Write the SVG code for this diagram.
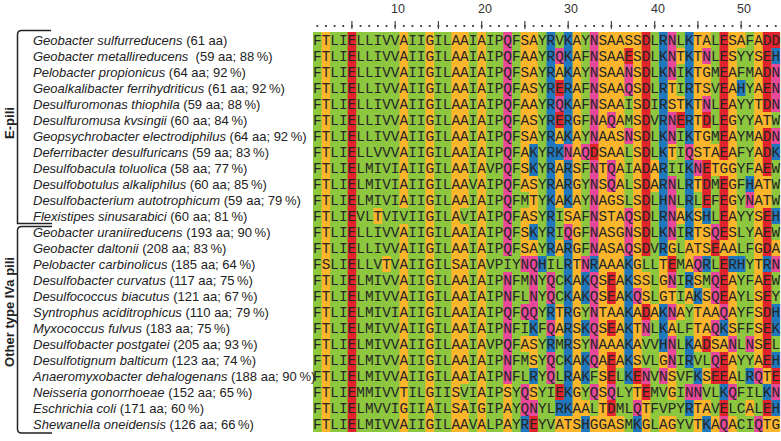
<svg xmlns="http://www.w3.org/2000/svg" width="781" height="441" viewBox="0 0 781 441">
<style>
.g{fill:#8dc63f}.o{fill:#fbb62c}.m{fill:#e8489a}.b{fill:#1f78bd}.r{fill:#e3232b}
.seq{font-family:"Liberation Mono","DejaVu Sans Mono",monospace;font-size:14.4px;fill:#262626}
.lab{font-family:"Liberation Sans",Arial,sans-serif;font-size:13px;fill:#222}
.it{font-style:italic}
.grp{font-family:"Liberation Sans",Arial,sans-serif;font-size:13px;font-weight:bold;fill:#222}
.num{font-family:"Liberation Sans",Arial,sans-serif;font-size:12.5px;fill:#333;text-anchor:middle}
.br{fill:none;stroke:#222;stroke-width:1.5}
</style>
<rect width="781" height="441" fill="#fff"/>
<g id="ruler">
<text class="num" x="398" y="12.5">10</text>
<text class="num" x="485" y="12.5">20</text>
<text class="num" x="571" y="12.5">30</text>
<text class="num" x="658" y="12.5">40</text>
<text class="num" x="744" y="12.5">50</text>
<line x1="316.4" y1="26" x2="781" y2="26" stroke="#444" stroke-width="1.8" stroke-dasharray="1.8 6.85"/>
<path d="M351.9 21v8M395.2 21v8M438.4 21v8M481.7 21v8M524.9 21v8M568.2 21v8M611.4 21v8M654.7 21v8M697.9 21v8M741.2 21v8" stroke="#444" stroke-width="1.2"/>
</g>
<g id="alignment-colours" transform="translate(313,32) scale(8.65,16)">
<rect class="g" x="0" y="0" width="54" height="25"/>
<path class="o" d="M1 0h1v25h-1zM7 11h1v1h-1zM8 14h1v1h-1zM10 0h1v11h-1zM10 12h1v13h-1zM13 0h1v25h-1zM16 0h1v25h-1zM17 0h1v11h-1zM17 12h1v10h-1zM17 23h1v2h-1zM19 0h1v25h-1zM22 22h1v3h-1zM24 0h1v10h-1zM24 11h1v3h-1zM24 19h1v1h-1zM25 0h1v7h-1zM25 9h1v3h-1zM25 13h1v1h-1zM25 19h1v2h-1zM25 22h1v1h-1zM28 2h1v1h-1zM28 6h1v1h-1zM28 8h1v3h-1zM28 13h1v1h-1zM28 17h1v2h-1zM28 24h1v1h-1zM29 11h1v1h-1zM29 24h1v1h-1zM30 0h1v25h-1zM31 23h1v1h-1zM32 24h1v1h-1zM33 0h1v25h-1zM34 0h1v5h-1zM34 6h1v2h-1zM34 10h1v5h-1zM34 17h1v1h-1zM34 19h1v1h-1zM34 24h1v1h-1zM35 0h1v21h-1zM35 24h1v1h-1zM36 0h1v1h-1zM37 0h1v16h-1zM37 17h1v4h-1zM37 22h1v1h-1zM38 15h1v2h-1zM38 23h1v2h-1zM39 8h1v2h-1zM39 17h1v1h-1zM40 14h1v3h-1zM40 20h1v1h-1zM40 24h1v1h-1zM41 3h1v2h-1zM41 7h1v1h-1zM41 13h1v1h-1zM41 16h1v1h-1zM41 18h1v1h-1zM41 21h1v2h-1zM41 24h1v1h-1zM42 1h1v1h-1zM42 4h1v1h-1zM42 11h1v1h-1zM42 17h1v1h-1zM43 13h1v2h-1zM43 16h1v1h-1zM44 0h1v8h-1zM44 9h1v1h-1zM44 11h1v3h-1zM44 15h1v1h-1zM44 17h1v3h-1zM44 23h1v2h-1zM45 0h1v1h-1zM45 2h1v2h-1zM45 6h1v2h-1zM45 12h1v2h-1zM45 16h1v3h-1zM45 21h1v1h-1zM45 23h1v1h-1zM46 7h1v2h-1zM46 17h1v1h-1zM46 19h1v1h-1zM46 24h1v1h-1zM47 8h1v1h-1zM47 13h1v1h-1zM47 19h1v1h-1zM48 0h1v14h-1zM48 15h1v4h-1zM48 20h1v2h-1zM48 24h1v1h-1zM49 0h1v1h-1zM50 23h1v1h-1zM51 0h1v21h-1zM52 5h1v1h-1zM52 9h1v2h-1zM52 21h1v1h-1zM52 24h1v1h-1zM53 13h1v1h-1zM53 24h1v1h-1z"/>
<path class="b" d="M27 0h1v14h-1zM27 17h1v1h-1zM27 19h1v1h-1zM29 0h1v7h-1zM29 8h1v3h-1zM29 13h1v11h-1zM40 0h1v14h-1zM40 17h1v3h-1zM43 0h1v7h-1zM43 8h1v5h-1zM43 15h1v1h-1zM43 19h1v2h-1zM43 23h1v1h-1zM36 14h1v8h-1zM31 15h1v2h-1zM31 18h1v1h-1zM31 20h1v2h-1zM53 1h1v1h-1zM53 7h1v1h-1zM53 11h1v1h-1zM53 17h1v2h-1zM53 20h1v1h-1zM53 23h1v1h-1zM25 7h1v2h-1zM25 12h1v1h-1zM25 18h1v1h-1zM25 21h1v1h-1zM49 3h1v1h-1zM28 7h1v1h-1zM50 9h1v1h-1zM45 11h1v1h-1zM26 14h1v1h-1zM32 14h1v1h-1zM45 14h1v1h-1zM48 14h2v1h-2zM52 14h1v1h-1zM44 16h1v1h-1zM47 18h1v1h-1zM44 21h1v1h-1zM50 21h1v1h-1zM47 22h1v1h-1zM52 22h1v1h-1zM28 23h1v1h-1zM24 24h1v1h-1zM31 24h1v1h-1zM37 24h1v1h-1zM45 24h1v1h-1z"/>
<path class="r" d="M4 0h1v25h-1zM38 0h1v14h-1zM38 17h1v1h-1zM38 22h1v1h-1zM47 0h1v8h-1zM47 9h1v4h-1zM47 14h1v3h-1zM47 20h1v2h-1zM47 23h1v1h-1zM52 0h1v5h-1zM52 6h1v3h-1zM52 11h1v3h-1zM52 15h1v6h-1zM52 23h1v1h-1zM34 15h1v2h-1zM34 18h1v1h-1zM34 20h1v2h-1zM34 23h1v1h-1zM45 5h1v1h-1zM45 8h1v3h-1zM45 19h1v1h-1zM28 3h1v1h-1zM28 5h1v1h-1zM28 22h1v1h-1zM53 0h1v1h-1zM36 1h1v1h-1zM42 5h1v1h-1zM32 7h1v1h-1zM46 13h1v1h-1zM41 14h1v1h-1zM37 21h1v1h-1zM46 21h1v1h-1zM53 21h1v1h-1zM25 24h1v1h-1z"/>
<path class="m" d="M22 0h1v14h-1zM22 15h1v7h-1zM32 0h1v7h-1zM32 8h1v6h-1zM32 15h1v6h-1zM32 22h1v1h-1zM41 0h1v3h-1zM41 5h1v2h-1zM41 9h1v4h-1zM41 15h1v1h-1zM41 17h1v1h-1zM41 19h1v2h-1zM36 2h1v2h-1zM36 6h1v1h-1zM36 11h1v3h-1zM53 2h1v3h-1zM53 6h1v1h-1zM53 14h1v1h-1zM53 22h1v1h-1zM46 12h1v1h-1zM46 15h1v2h-1zM46 18h1v1h-1zM46 20h1v1h-1zM27 15h1v2h-1zM27 18h1v1h-1zM27 20h1v2h-1zM34 5h1v1h-1zM34 8h1v2h-1zM34 22h1v1h-1zM28 1h1v1h-1zM28 4h1v1h-1zM45 1h1v1h-1zM45 4h1v1h-1zM24 14h1v1h-1zM24 17h1v1h-1zM24 22h1v2h-1zM25 14h1v4h-1zM25 23h1v1h-1zM29 7h1v1h-1zM29 12h1v1h-1zM31 7h1v1h-1zM31 14h1v1h-1zM43 7h1v1h-1zM43 22h1v1h-1zM44 8h1v1h-1zM44 14h1v1h-1zM44 22h1v1h-1zM50 10h1v1h-1zM50 19h1v1h-1zM37 16h1v1h-1zM37 23h1v1h-1zM38 18h1v1h-1zM38 21h1v1h-1zM47 17h1v1h-1zM47 24h1v1h-1zM48 19h1v1h-1zM48 22h1v1h-1zM51 21h1v1h-1zM51 24h1v1h-1zM40 21h1v1h-1z"/>
</g>
<g id="brackets">
<path class="br" d="M51 30.5H21.5Q17.5 30.5 17.5 34.5V223.5H52"/>
<path class="br" d="M52 226.5H21.5Q17.5 226.5 17.5 230.5V429Q17.5 433 21.5 433H52"/>
<text class="grp" transform="translate(14,123) rotate(-90)" text-anchor="middle">E-pili</text>
<text class="grp" transform="translate(14,312) rotate(-90)" text-anchor="middle">Other type IVa pili</text>
</g>
<g id="row01"><text class="lab" x="33" y="44.5"><tspan class="it">Geobacter sulfurreducens</tspan> (61 aa)</text><text class="seq" x="313" y="45" textLength="467.1">FTLIELLIVVAIIGILAAIAIPQFSAYRVKAYNSAASSDLRNLKTALESAFADD</text></g>
<g id="row02"><text class="lab" x="33" y="60.5"><tspan class="it">Geobacter metallireducens</tspan>&#160; (59 aa; 88&#8201;%)</text><text class="seq" x="313" y="61" textLength="467.1">FTLIELLIVVAIIGILAAIAIPQFAAYRQKAFNSAAESDLKNTKTNLESYYSEH</text></g>
<g id="row03"><text class="lab" x="33" y="76.5"><tspan class="it">Pelobacter propionicus</tspan> (64 aa; 92&#8201;%)</text><text class="seq" x="313" y="77" textLength="467.1">FTLIELLIVVAIIGILAAIAIPQFSAYRAKAYNSAANSDLKNIKTGMEAFMADN</text></g>
<g id="row04"><text class="lab" x="33" y="92.5"><tspan class="it">Geoalkalibacter ferrihydriticus</tspan> (61 aa; 92&#8201;%)</text><text class="seq" x="313" y="93" textLength="467.1">FTLIELLIVVAIIGILAAIAIPQFASYRERAFNSAAQSDLRTIRTSVEAHYAEN</text></g>
<g id="row05"><text class="lab" x="33" y="108.5"><tspan class="it">Desulfuromonas thiophila</tspan> (59 aa; 88&#8201;%)</text><text class="seq" x="313" y="109" textLength="467.1">FTLIELLIVVAIIGILAAIAIPQFAAYRQKAFNSAAISDIRSTKTNLEAYYTDN</text></g>
<g id="row06"><text class="lab" x="33" y="124.5"><tspan class="it">Desulfuromusa kvsingii</tspan> (60 aa; 84&#8201;%)</text><text class="seq" x="313" y="125" textLength="467.1">FTLIELLIVVAIIGILAAIAIPQFASYRERGFNAQAMSDVRNERTDLEGYYATW</text></g>
<g id="row07"><text class="lab" x="33" y="140.5"><tspan class="it">Geopsychrobacter electrodiphilus</tspan> (64 aa; 92&#8201;%)</text><text class="seq" x="313" y="141" textLength="467.1">FTLIELLIVVAIIGILAAIAIPQFSAYRAKAYNAASNSDLKNIKTGMEAYMADN</text></g>
<g id="row08"><text class="lab" x="33" y="156.5"><tspan class="it">Deferribacter desulfuricans</tspan> (59 aa; 83&#8201;%)</text><text class="seq" x="313" y="157" textLength="467.1">FTLIELLVVVAIIGILAAIAIPQFAKYRKNAQDSAALSDLKTIQSTAEAFYADK</text></g>
<g id="row09"><text class="lab" x="33" y="172.5"><tspan class="it">Desulfobacula toluolica</tspan> (58 aa; 77&#8201;%)</text><text class="seq" x="313" y="173" textLength="467.1">FTLIELMIVIAIIGILAAIAVPQFSKYRARSFNTQAIADARIIKNETGGYFAEW</text></g>
<g id="row10"><text class="lab" x="33" y="188.5"><tspan class="it">Desulfobotulus alkaliphilus</tspan> (60 aa; 85&#8201;%)</text><text class="seq" x="313" y="189" textLength="467.1">FTLIELMIVIAIIGILAAVAIPQFASYRARGYNSQALSDARNLRTDMEGFHATW</text></g>
<g id="row11"><text class="lab" x="33" y="204.5"><tspan class="it">Desulfobacterium autotrophicum</tspan> (59 aa; 79&#8201;%)</text><text class="seq" x="313" y="205" textLength="467.1">FTLIELMIVIAIIGILAAIAIPQFMTYKAKAYNAGSLSDLHNLRLEFEGYNATW</text></g>
<g id="row12"><text class="lab" x="33" y="220.5"><tspan class="it">Flexistipes sinusarabici</tspan> (60 aa; 81&#8201;%)</text><text class="seq" x="313" y="221" textLength="467.1">FTLIEVLTVIVIIGILAVIAIPQFASYRISAFNSTAQSDLRNAKSHLEAYYSEH</text></g>
<g id="row13"><text class="lab" x="33" y="236.5"><tspan class="it">Geobacter uraniireducens</tspan> (193 aa; 90&#8201;%)</text><text class="seq" x="313" y="237" textLength="467.1">FTLIELLIVVAIIGILAAIAIPQFSKYRIQGFNASGNSDLKNIRTSQESLYAEW</text></g>
<g id="row14"><text class="lab" x="33" y="252.5"><tspan class="it">Geobacter daltonii</tspan> (208 aa; 83&#8201;%)</text><text class="seq" x="313" y="253" textLength="467.1">FTLIELLIVVAIIGILAAIAIPQFSAYRARGFNASAQSDVRGLATSEAALFGDA</text></g>
<g id="row15"><text class="lab" x="33" y="268.5"><tspan class="it">Pelobacter carbinolicus</tspan> (185 aa; 64&#8201;%)</text><text class="seq" x="313" y="269" textLength="467.1">FSLIELLVTVAIIGILSAIAVPIYNQHILRTNRAAAKGLLTEMAQRLERHYTRN</text></g>
<g id="row16"><text class="lab" x="33" y="284.5"><tspan class="it">Desulfobacter curvatus</tspan> (117 aa; 75&#8201;%)</text><text class="seq" x="313" y="285" textLength="467.1">FTLIELMIVVAIIGILAAIAIPNFMNYQCKAKQSEAKSSLGNIRSMQEAYFAEW</text></g>
<g id="row17"><text class="lab" x="33" y="300.5"><tspan class="it">Desulfococcus biacutus</tspan> (121 aa; 67&#8201;%)</text><text class="seq" x="313" y="301" textLength="467.1">FTLIELMIVVAIIGILAAIAIPNFLNYQCKAKQSEAKQSLGTIAKSQEAYLSEY</text></g>
<g id="row18"><text class="lab" x="33" y="316.5"><tspan class="it">Syntrophus aciditrophicus</tspan> (110 aa; 79&#8201;%)</text><text class="seq" x="313" y="317" textLength="467.1">FTLIELMIVIAIIGILAAIAIPQFQQYRTRGYNTAAKADAKNAYTAAQAYFSDH</text></g>
<g id="row19"><text class="lab" x="33" y="332.5"><tspan class="it">Myxococcus fulvus</tspan> (183 aa; 75&#8201;%)</text><text class="seq" x="313" y="333" textLength="467.1">FTLIELMIVVAIIGILAAIAIPNFIKFQARSKQSEAKTNLKALFTAQKSFFSEK</text></g>
<g id="row20"><text class="lab" x="33" y="348.5"><tspan class="it">Desulfobacter postgatei</tspan> (205 aa; 93&#8201;%)</text><text class="seq" x="313" y="349" textLength="467.1">FTLIELMIVVAIIGILAAIAVPQFASYRMRSYNAAAKAVVHNLKADSANLNSEL</text></g>
<g id="row21"><text class="lab" x="33" y="364.5"><tspan class="it">Desulfotignum balticum</tspan> (123 aa; 74&#8201;%)</text><text class="seq" x="313" y="365" textLength="467.1">FTLIELMIVVAIIGILAAIAIPNFMSYQCKAKQAEAKSVLGNIRVLQEAYYAEH</text></g>
<g id="row22"><text class="lab" x="33" y="380.5"><tspan class="it">Anaeromyxobacter dehalogenans</tspan> (188 aa; 90&#8201;%)</text><text class="seq" x="313" y="381" textLength="467.1">FTLIELMIVVAIIGILAAIAIPNFLRYQLRAKFSELKENVNSVFKSEEALRQTE</text></g>
<g id="row23"><text class="lab" x="33" y="396.5"><tspan class="it">Neisseria gonorrhoeae</tspan> (152 aa; 65&#8201;%)</text><text class="seq" x="313" y="397" textLength="467.1">FTLIEMMIVVTILGIISVIAIPSYQSYIEKGYQSQLYTEMVGINNVLKQFILKN</text></g>
<g id="row24"><text class="lab" x="33" y="412.5"><tspan class="it">Eschrichia coli</tspan> (171 aa; 60&#8201;%)</text><text class="seq" x="313" y="413" textLength="467.1">FTLIELMVVIGIIAILSAIGIPAYQNYLRKAALTDMLQTFVPYRTAVELCALEH</text></g>
<g id="row25"><text class="lab" x="33" y="428.5"><tspan class="it">Shewanella oneidensis</tspan> (126 aa; 66&#8201;%)</text><text class="seq" x="313" y="429" textLength="467.1">FTLIELMIVVAIIGILAAVALPAYREYVATSHGGASMKGLAGYVTKAQACIQTG</text></g>
</svg>
